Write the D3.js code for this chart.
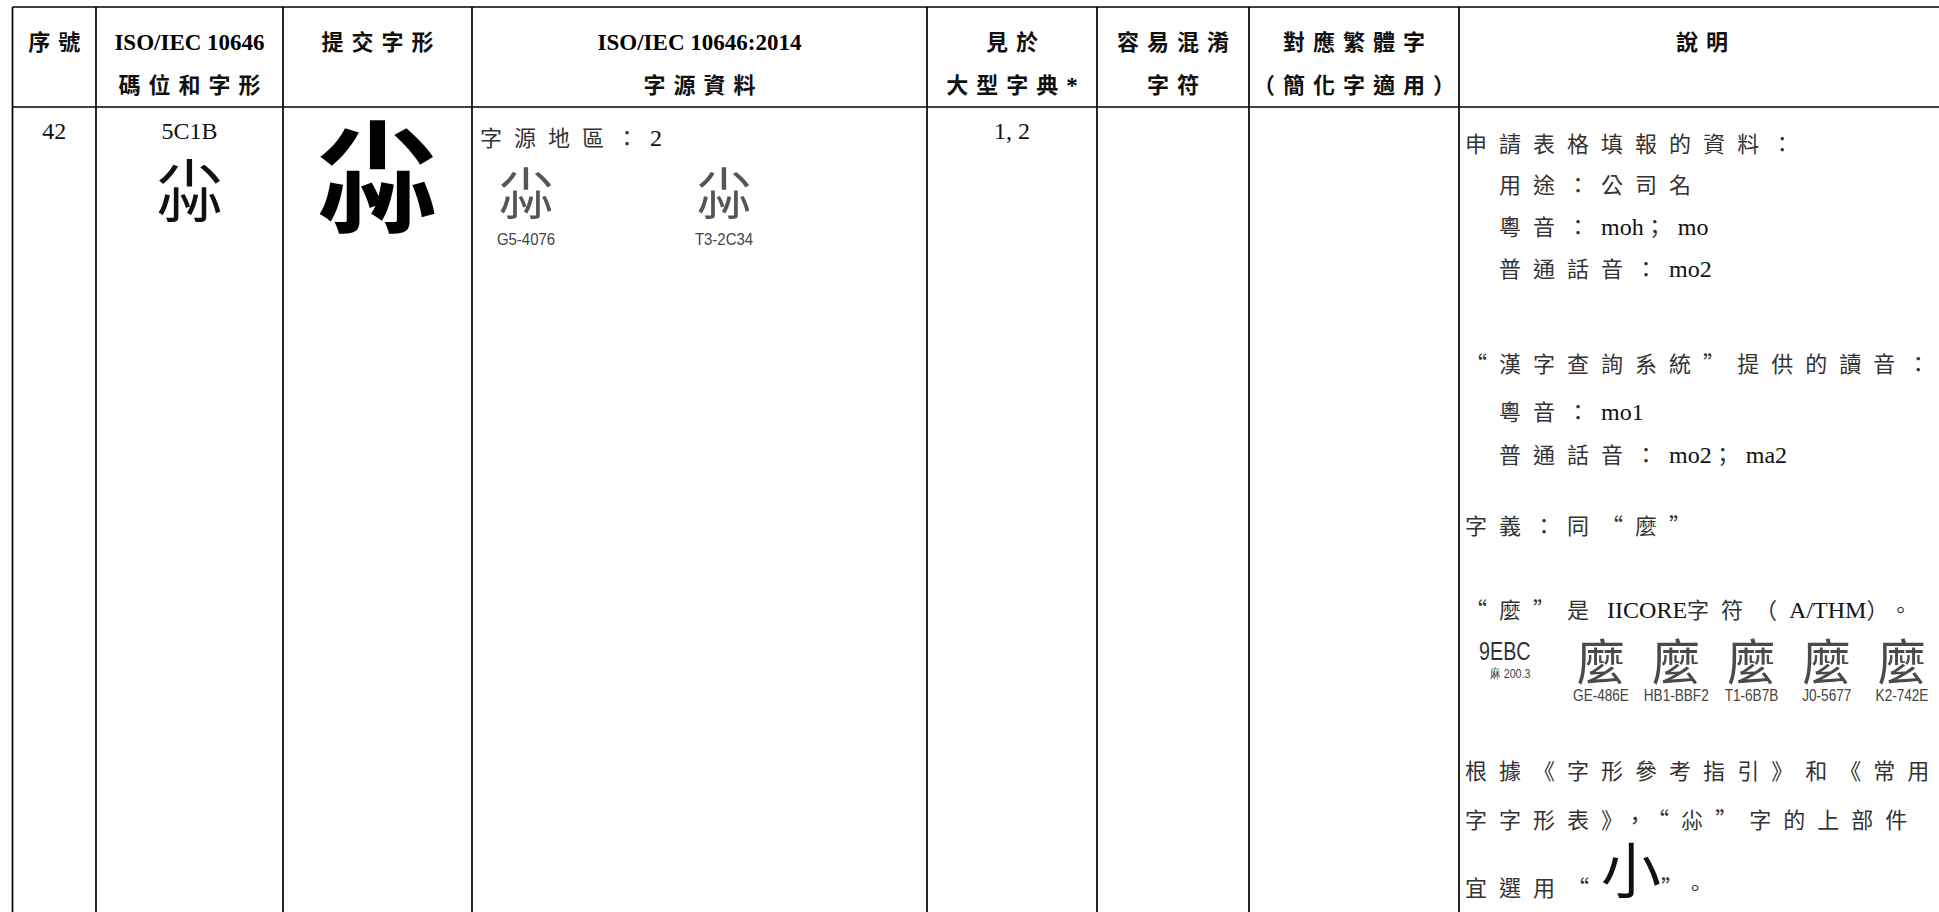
<!DOCTYPE html>
<html><head><meta charset="utf-8">
<script src="https://cdn.jsdelivr.net/npm/d3@7"></script>
<style>html,body{margin:0;padding:0;background:#fff;overflow:hidden}</style>
</head><body>
<svg id="c" width="1939" height="912"></svg>
<script>
// ---------- DATA ----------
const headerLine1 = ["序號","ISO/IEC 10646","提交字形","ISO/IEC 10646:2014","見於","容易混淆","對應繁體字","說明"];
const headerLine2 = ["","碼位和字形","","字源資料","大型字典*","字符","（簡化字適用）",""];
const rowValues   = ["42","5C1B","","","1, 2","","",""];
const glyphChar   = "尛";
const sourceRegion = "字源地區：2";
const sourceLabels = ["G5-4076","T3-2C34"];
const descriptionLines = [
  "申請表格填報的資料：",
  "　用途：公司名",
  "　粵音：moh；mo",
  "　普通話音：mo2",
  "“漢字查詢系統”提供的讀音：",
  "　粵音：mo1",
  "　普通話音：mo2；ma2",
  "字義：同“麼”",
  "“麼”是 IICORE字符（A/THM）。",
  "根據《字形參考指引》和《常用",
  "字字形表》，“尛”字的上部件",
  "宜選用“小”。"
];
const iicoreChar = "麼";
const iicoreCode = "9EBC";
const iicoreRadical = "麻 200.3";
const iicoreLabels = ["GE-486E","HB1-BBF2","T1-6B7B","J0-5677","K2-742E"];
const emphasisChar = "小";

// ---------- LAYOUT ----------
const W = 1939, H = 912;
const colEdges = [12.5, 96, 283, 472, 927, 1097, 1249, 1459, 1945];
const rowEdges = [7, 107, 920];
const descY = [152, 193, 235, 277, 372, 420, 463, 534, 618, 779, 828, 896];

const CJK = "'Noto Sans CJK TC','Noto Sans CJK SC',sans-serif";
const SERIF = "'Liberation Serif','Times New Roman',serif";
const SANS = "'Liberation Sans',Arial,sans-serif";

const svg = d3.select("#c");
const colX = i => colEdges[i];
const colMid = i => (colEdges[i] + colEdges[i+1]) / 2;

// grid lines
const g = svg.append("g").attr("stroke","#000").attr("stroke-width",1.7);
g.selectAll("line.h").data(rowEdges.slice(0,2)).join("line")
  .attr("x1", colEdges[0]).attr("x2", W).attr("y1", d=>d).attr("y2", d=>d);
g.selectAll("line.v").data(colEdges.slice(0,8)).join("line")
  .attr("x1", d=>d).attr("x2", d=>d).attr("y1", rowEdges[0]).attr("y2", H);

// mixed-script text helper: CJK characters one tspan each, Latin runs as words
function mixed(sel, str, opt) {
  opt = opt || {};
  const ls = opt.ls != null ? opt.ls : 12;
  const runs = str.split(/([\x20-\x7E]+)/).filter(s => s.length);
  runs.forEach((r, ri) => {
    const latin = /^[\x20-\x7E]+$/.test(r);
    if (latin) {
      sel.append("tspan").text(r)
        .attr("font-family", SERIF)
        .attr("font-size", opt.latinSize || 24)
        .attr("font-weight", opt.bold ? "bold" : "normal")
        .attr("fill", opt.latinFill || "#111")
        .style("white-space","pre");
    } else {
      const chars = Array.from(r);
      chars.forEach((ch, ci) => {
        const big = opt.emph && ch === opt.emph;
        const last = ri === runs.length - 1 && ci === chars.length - 1 && !opt.keepTrail;
        const t = sel.append("tspan").text(ch)
          .attr("font-family", CJK)
          .attr("font-size", big ? 60 : (opt.cjkSize || 22))
          .attr("font-weight", opt.bold ? "bold" : "normal")
          .attr("letter-spacing", (big || last) ? 0 : ls)
          .attr("fill", big ? "#111" : (opt.cjkFill || "#333"))
          .style("white-space","pre");
        if (big) t.attr("dy", -3);
        else if (opt.emph && ci > 0 && chars[ci-1] === opt.emph) t.attr("dy", 3);
      });
    }
  });
  return sel;
}

// condensed sans label helper
function label(sel, x, y, size, sx, fill) {
  return sel.attr("transform", `translate(${x},${y}) scale(${sx},1)`)
    .attr("font-family", SANS).attr("font-size", size).attr("fill", fill);
}

// headers
const hdr = svg.append("g");
[headerLine1, headerLine2].forEach((line, li) => {
  line.forEach((t,i) => {
    if (!t) return;
    const ls = 8;
    const tx = hdr.append("text").attr("x", colMid(i)).attr("y", li === 0 ? 50 : 93)
      .attr("text-anchor","middle");
    mixed(tx, t, {bold:true, ls:ls, latinSize:23, cjkFill:"#111", latinFill:"#000"});
  });
});

// row values
rowValues.forEach((t,i) => {
  if (!t) return;
  svg.append("text").attr("x", colMid(i)).attr("y", 139).attr("text-anchor","middle")
    .attr("font-family", SERIF).attr("font-size", 24).attr("fill","#111").text(t);
});

// code point glyph (col 1)
svg.append("text").attr("x", colMid(1)).attr("y", 216).attr("text-anchor","middle")
  .attr("font-family", CJK).attr("font-size", 68).attr("fill","#111").text(glyphChar);

// submitted glyph (col 2)
svg.append("text").attr("x", colMid(2)).attr("y", 222).attr("text-anchor","middle")
  .attr("font-family", CJK).attr("font-size", 122).attr("font-weight","bold").attr("fill","#000").text(glyphChar);

// source region (col 3)
mixed(svg.append("text").attr("x", colX(3) + 8).attr("y", 146), sourceRegion, {});
const srcX = d3.scalePoint().domain(sourceLabels).range([colX(3) + 54, colX(3) + 252]);
const srcG = svg.append("g").selectAll("g").data(sourceLabels).join("g")
  .attr("transform", d => `translate(${srcX(d)},0)`);
srcG.append("text").attr("y", 214).attr("text-anchor","middle")
  .attr("font-family", CJK).attr("font-size", 56).attr("fill","#555").text(glyphChar);
srcG.append("text").attr("text-anchor","middle").text(d => d)
  .call(s => label(s, 0, 245, 17, 0.88, "#444"));

// description (col 7)
const descX = colX(7) + 6;
descriptionLines.forEach((t,i) => {
  const tx = svg.append("text").attr("x", descX).attr("y", descY[i]).style("white-space","pre");
  mixed(tx, t, {emph: i === descriptionLines.length-1 ? emphasisChar : null});
});

// IICORE block
svg.append("text").text(iicoreCode).call(s => label(s, colX(7) + 20, 660, 26, 0.76, "#333"));
svg.append("text").text(iicoreRadical).call(s => label(s, colX(7) + 31, 678, 13, 0.82, "#444"));
const icX = d3.scalePoint().domain(iicoreLabels).range([1601, 1902]);
const icG = svg.append("g").selectAll("g").data(iicoreLabels).join("g")
  .attr("transform", d => `translate(${icX(d)},0)`);
icG.append("text").attr("y", 680).attr("text-anchor","middle")
  .attr("font-family", CJK).attr("font-size", 49).attr("fill","#4a4a4a").text(iicoreChar);
icG.append("text").attr("text-anchor","middle").text(d => d)
  .call(s => label(s, 0, 701, 17, 0.8, "#444"));
</script>
</body></html>
